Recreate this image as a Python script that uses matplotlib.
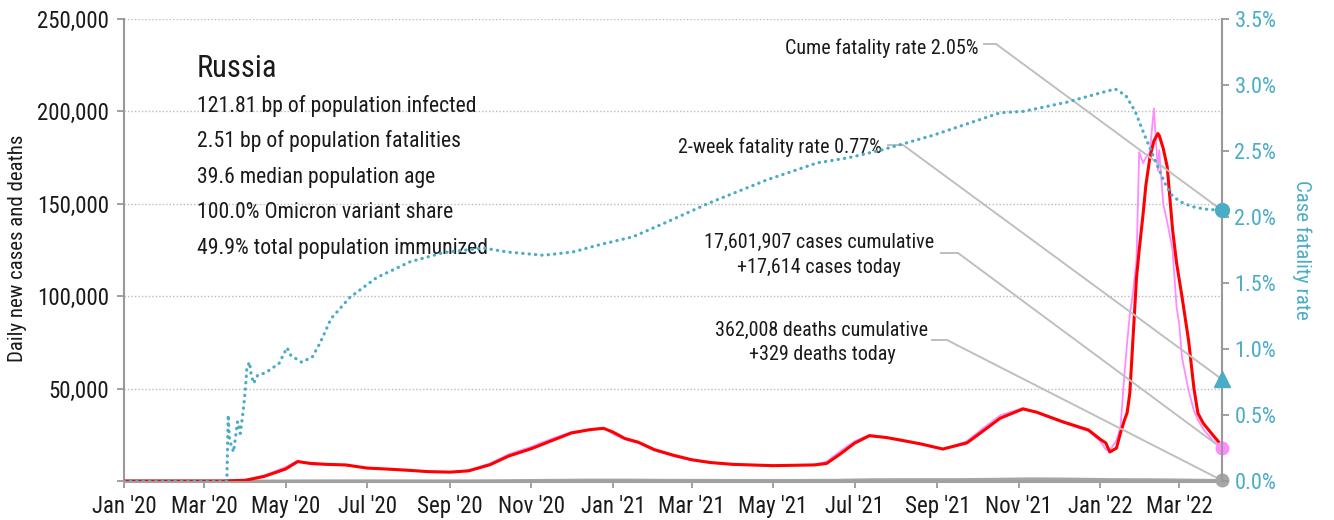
import matplotlib
matplotlib.use('Agg')
import matplotlib.pyplot as plt
import matplotlib.dates as mdates
from matplotlib.ticker import FuncFormatter, MultipleLocator
import pandas as pd

plt.rcParams['font.family'] = ['Roboto Condensed', 'DejaVu Sans']

# daily new cases: 7-day average (red) and raw daily count (pink)
case_dates = pd.to_datetime([
    '2020-01-01', '2020-03-15', '2020-04-01', '2020-04-15', '2020-05-01', '2020-05-10',
    '2020-05-20', '2020-06-01', '2020-06-15', '2020-07-01', '2020-07-15', '2020-08-01',
    '2020-08-15', '2020-09-01', '2020-09-15', '2020-10-01', '2020-10-15', '2020-11-01',
    '2020-11-15', '2020-12-01', '2020-12-15', '2020-12-25', '2021-01-01', '2021-01-10',
    '2021-01-20', '2021-02-01', '2021-02-15', '2021-03-01', '2021-03-15', '2021-04-01',
    '2021-05-01', '2021-06-01', '2021-06-10', '2021-06-20', '2021-07-01', '2021-07-12',
    '2021-07-25', '2021-08-04', '2021-08-20', '2021-09-05', '2021-09-23', '2021-10-05',
    '2021-10-18', '2021-11-04', '2021-11-14', '2021-12-04', '2021-12-23', '2022-01-01',
    '2022-01-05', '2022-01-08', '2022-01-13', '2022-01-16', '2022-01-19', '2022-01-21',
    '2022-01-23', '2022-01-25', '2022-01-28', '2022-01-30', '2022-02-02', '2022-02-04',
    '2022-02-07', '2022-02-10', '2022-02-13', '2022-02-14', '2022-02-17', '2022-02-20',
    '2022-02-24', '2022-02-27', '2022-03-01', '2022-03-03', '2022-03-08', '2022-03-12',
    '2022-03-15', '2022-03-19', '2022-03-26', '2022-04-02'])
cases_avg = [
    0, 0, 400, 2500, 6500, 10500,
    9500, 9000, 8700, 7000, 6500, 5800,
    5100, 4800, 5500, 8800, 13500, 17500,
    21500, 26000, 27800, 28500, 26500, 23000,
    21000, 17000, 14000, 11500, 10000, 9000,
    8300, 8700, 9500, 14500, 20500, 24500,
    23500, 22200, 20000, 17300, 20600, 27000,
    34000, 39000, 37300, 32000, 27600, 22500,
    20600, 15700, 17800, 26000, 33000, 37000,
    47600, 72500, 110000, 125000, 145000, 160000,
    175000, 184000, 188000, 187000, 180000, 170000,
    136000, 118000, 109000, 100000, 76000, 50000,
    36600, 31200, 25000, 19000]
cases_daily = [
    0, 0, 600, 3000, 7500, 11000,
    9000, 8900, 8500, 6800, 6400, 5600,
    5000, 4700, 5700, 9500, 14500, 18500,
    22500, 26500, 28000, 28800, 25500, 22500,
    20500, 16500, 13500, 11200, 9800, 8800,
    8400, 8800, 10500, 16000, 21500, 25000,
    23500, 21800, 19800, 17000, 21500, 28500,
    35500, 39500, 37000, 31500, 27000, 21500,
    17000, 16500, 22000, 29000, 58000, 75000,
    90000, 100000, 119600, 178000, 172000, 175000,
    178000, 201600, 168000, 179000, 150000, 140000,
    125000, 94000, 85000, 67000, 49000, 38000,
    33000, 28000, 22000, 17614]

# daily deaths, 7-day average
death_dates = pd.to_datetime([
    '2020-01-01', '2020-03-20', '2020-04-15', '2020-05-15', '2020-06-15', '2020-07-15',
    '2020-08-15', '2020-09-15', '2020-10-15', '2020-11-15', '2020-12-15', '2021-01-15',
    '2021-02-15', '2021-03-15', '2021-04-15', '2021-05-15', '2021-06-15', '2021-07-15',
    '2021-08-15', '2021-09-15', '2021-10-15', '2021-11-10', '2021-12-10', '2022-01-10',
    '2022-02-15', '2022-03-15', '2022-04-02'])
deaths_avg = [
    0, 0, 20, 110, 160, 140,
    110, 120, 240, 400, 560, 540,
    420, 380, 370, 360, 420, 750,
    790, 800, 990, 1220, 1100, 800,
    700, 480, 329]

# cumulative case fatality rate, percent
cfr_dates = pd.to_datetime([
    '2020-01-01', '2020-03-18', '2020-03-19', '2020-03-20', '2020-03-23', '2020-03-26',
    '2020-03-28', '2020-03-30', '2020-04-01', '2020-04-02', '2020-04-04', '2020-04-05',
    '2020-04-07', '2020-04-10', '2020-04-16', '2020-04-26', '2020-05-02', '2020-05-05',
    '2020-05-13', '2020-05-21', '2020-05-27', '2020-06-04', '2020-06-18', '2020-07-08',
    '2020-08-02', '2020-08-27', '2020-09-26', '2020-10-14', '2020-11-10', '2020-12-02',
    '2020-12-22', '2021-01-16', '2021-02-10', '2021-03-15', '2021-04-26', '2021-06-03',
    '2021-06-27', '2021-07-22', '2021-08-29', '2021-10-18', '2021-11-04', '2021-12-07',
    '2022-01-01', '2022-01-12', '2022-01-20', '2022-01-27', '2022-02-03', '2022-02-08',
    '2022-02-13', '2022-02-18', '2022-02-23', '2022-03-01', '2022-03-10', '2022-03-20',
    '2022-04-02'])
cfr_pct = [
    0, 0, 0.50, 0.31, 0.22, 0.45,
    0.36, 0.51, 0.71, 0.86, 0.90, 0.82,
    0.74, 0.80, 0.82, 0.89, 1.01, 0.95,
    0.90, 0.94, 1.05, 1.23, 1.39, 1.54,
    1.66, 1.73, 1.765, 1.735, 1.71, 1.735,
    1.79, 1.85, 1.96, 2.11, 2.28, 2.41,
    2.45, 2.51, 2.62, 2.79, 2.80, 2.87,
    2.94, 2.97, 2.92, 2.80, 2.62, 2.50,
    2.38, 2.26, 2.17, 2.12, 2.08, 2.06,
    2.05]

last_day = pd.Timestamp('2022-04-02')
cume_rate = 2.05
two_week_rate = 0.77
cases_today = 17614
deaths_today = 329

TEAL = '#4bacc6'
PINK = '#ff8cff'
GRAY = '#a6a6a6'
LINK = '#bfbfbf'
INK = '#1a1a1a'

fig = plt.figure(figsize=(13.34, 5.2), dpi=100)
ax = fig.add_axes([124 / 1334, 39 / 520, 1098 / 1334, 462 / 520])

ax.plot(case_dates, cases_daily, color=PINK, lw=1.3, zorder=2)
ax.plot(case_dates, cases_avg, color='#ff0000', lw=2.2, zorder=3)
ax.plot(death_dates, deaths_avg, color=GRAY, lw=2, zorder=2)
ax.plot([last_day], [cases_today], 'o', color=PINK, ms=9, clip_on=False, zorder=5)
ax.plot([last_day], [deaths_today], 'o', color=GRAY, ms=9, clip_on=False, zorder=5)

ax.set_xlim(pd.Timestamp('2020-01-01'), last_day)
ax.set_ylim(0, 250000)
ax.yaxis.set_major_locator(MultipleLocator(50000))
ax.yaxis.set_major_formatter(FuncFormatter(lambda v, p: '' if v == 0 else f'{int(v):,}'))
ax.xaxis.set_major_locator(mdates.MonthLocator(bymonth=[1, 3, 5, 7, 9, 11]))
ax.xaxis.set_major_formatter(mdates.DateFormatter("%b '%y"))
ax.grid(axis='y', color='#bbbbbb', linestyle=(0, (1, 1.5)), lw=1)
ax.set_axisbelow(True)

for side in ['top', 'right']:
    ax.spines[side].set_visible(False)
ax.spines['left'].set_color('#999999')
ax.spines['left'].set_linewidth(1.5)
ax.spines['bottom'].set_color('#a0a0a0')
ax.spines['bottom'].set_linewidth(2.2)
ax.tick_params(axis='both', colors='#999999', labelcolor=INK, labelsize=16.5, length=5, width=1.3)
ax.tick_params(axis='y', pad=6)
ax.tick_params(axis='x', pad=5)

ax2 = ax.twinx()
ax2.plot(cfr_dates, cfr_pct, color=TEAL, lw=2.3, linestyle=(0, (0.1, 1.9)),
         dash_capstyle='round')
ax2.plot([last_day], [cume_rate], 'o', color=TEAL, ms=10, clip_on=False, zorder=5)
ax2.plot([last_day], [two_week_rate], '^', color=TEAL, ms=11, clip_on=False, zorder=5)
ax2.set_ylim(0, 3.5)
ax2.yaxis.set_major_locator(MultipleLocator(0.5))
ax2.yaxis.set_major_formatter(FuncFormatter(lambda v, p: f'{v:.1f}%'))
for side in ['top', 'left', 'bottom']:
    ax2.spines[side].set_visible(False)
ax2.spines['right'].set_color('#999999')
ax2.spines['right'].set_linewidth(1.5)
ax2.tick_params(axis='y', colors='#999999', labelcolor=TEAL, labelsize=16, length=5, width=1.3, pad=4)

fig.text(18 / 1334, 1 - 248 / 520, 'Daily new cases and deaths', rotation=90,
         ha='center', va='center', fontsize=15, color=INK)
fig.text(1302 / 1334, 1 - 250 / 520, 'Case fatality rate', rotation=270,
         ha='center', va='center', fontsize=15, color=TEAL)

# country summary block
ax.text(0.0665, 0.8745, 'Russia', transform=ax.transAxes, fontsize=22, color=INK)
stats = ['121.81 bp of population infected', '2.51 bp of population fatalities',
         '39.6 median population age', '100.0% Omicron variant share',
         '49.9% total population immunized']
for i, line in enumerate(stats):
    ax.text(0.0665, 0.7987 - i * 0.0768, line, transform=ax.transAxes, fontsize=15.7, color=INK)

end_x = mdates.date2num(last_day)


def callout(lines, x, baselines, ha, link_y, dash, target_y, target_ax):
    for line, b in zip(lines, baselines):
        ax.text(x, b, line, transform=ax.transAxes, ha=ha, va='baseline', fontsize=14.5, color=INK)
    ax.plot(dash, [link_y, link_y], transform=ax.transAxes, color=LINK, lw=1.4, clip_on=False)
    ax.annotate('', xy=(end_x, target_y), xycoords=target_ax.transData, xytext=(dash[1], link_y),
                textcoords='axes fraction',
                arrowprops=dict(arrowstyle='-', color=LINK, lw=1.4, shrinkA=0, shrinkB=0))


callout([f'Cume fatality rate {cume_rate:.2f}%'], 0.7778, [0.9242], 'right', 0.9459,
        (0.7832, 0.7942), cume_rate, ax2)
callout([f'2-week fatality rate {two_week_rate:.2f}%'], 0.6903, [0.7100], 'right', 0.7273,
        (0.6958, 0.7095), two_week_rate, ax2)
callout(['17,601,907 cases cumulative', f'+{cases_today:,} cases today'], 0.633,
        [(481 - 248) / 462, (481 - 273) / 462], 'center', (481 - 253) / 462,
        (0.7441, 0.7596), cases_today, ax)
callout(['362,008 deaths cumulative', f'+{deaths_today} deaths today'], 0.6357,
        [(481 - 336) / 462, (481 - 360) / 462], 'center', (481 - 340) / 462,
        (0.7359, 0.7495), deaths_today, ax)

fig.savefig('out.png', dpi=100)
